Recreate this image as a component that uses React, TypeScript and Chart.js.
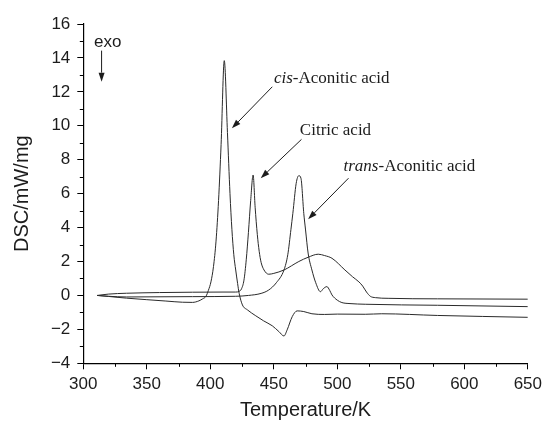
import React, { useEffect, useRef } from "react";
import { Chart, registerables } from "chart.js";

Chart.register(...registerables);

// ---- Data ----
const cisT = [311, 320, 334, 350, 365, 378, 386, 391, 394, 396.6, 398.5, 400.5, 402.5, 404.5, 406.5, 408.5, 411, 413.5, 415.5, 417, 418.5, 420, 421.5, 422.7, 425.3, 429.2, 435.8, 442, 448.8, 454, 458, 460.5, 464.5, 468.4, 473.6, 480, 490, 500, 522, 535, 579, 650];
const cisY = [0, -0.06, -0.16, -0.25, -0.33, -0.4, -0.41, -0.32, -0.2, -0.05, 0.3, 0.8, 1.7, 3.2, 5.6, 8.9, 13.84, 9.6, 6.0, 3.9, 2.4, 1.5, 0.7, 0.13, -0.56, -0.85, -1.2, -1.5, -1.79, -2.13, -2.39, -2.03, -1.25, -0.91, -0.95, -1.08, -1.12, -1.1, -1.11, -1.08, -1.18, -1.29];

const citricT = [311, 320, 334, 360, 386, 410, 420, 422.7, 424.5, 426.5, 428.3, 430, 431.8, 433.7, 435.3, 437, 438.5, 440, 442.3, 446, 450, 458, 469.7, 477, 485, 490, 495.8, 506, 512, 517, 520, 523, 526, 530, 540, 579, 650];
const citricY = [0, 0.08, 0.13, 0.17, 0.19, 0.2, 0.2, 0.24, 0.38, 0.9, 2.1, 3.7, 5.6, 7.1, 5.2, 3.6, 2.6, 1.95, 1.5, 1.25, 1.3, 1.5, 2.0, 2.25, 2.43, 2.35, 2.19, 1.5, 1.1, 0.8, 0.55, 0.2, -0.05, -0.13, -0.17, -0.2, -0.22];

const transT = [311, 320, 334, 386, 420, 430, 440, 446, 452, 458, 461, 463.5, 465, 467.6, 469.7, 471.4, 473.6, 475, 477, 480, 483, 486.7, 489, 491.8, 494, 495.8, 500, 503.6, 510, 522, 579, 650];
const transY = [0, -0.05, -0.09, -0.07, -0.05, 0.0, 0.12, 0.32, 0.75, 1.5, 2.4, 3.9, 4.84, 6.6, 7.06, 6.9, 4.84, 3.86, 2.5, 1.5, 0.75, 0.22, 0.4, 0.52, 0.3, 0.03, -0.28, -0.42, -0.48, -0.52, -0.58, -0.66];

const xMinorTicks = [325, 375, 425, 475, 525, 575, 625];
const yMinorTicks = [-3, -1, 1, 3, 5, 7, 9, 11, 13, 15];

// annotations in data coordinates
const labels = [
  { italic: "cis", rest: "-Aconitic acid", x: 450.1, y: 12.5 },
  { italic: "", rest: "Citric acid", x: 470.5, y: 9.46 },
  { italic: "trans", rest: "-Aconitic acid", x: 504.9, y: 7.31 },
];
const arrows = [
  { x1: 448.8, y1: 12.3, x2: 417.0, y2: 9.85 },
  { x1: 471.8, y1: 9.2, x2: 439.7, y2: 6.91 },
  { x1: 508.8, y1: 6.91, x2: 477.0, y2: 4.49 },
  { x1: 314.4, y1: 14.43, x2: 314.4, y2: 12.6 },
];
const exoLabel = { text: "exo", x: 308.4, y: 14.66 };

const toPoints = (xs: number[], ys: number[]) => xs.map((x, i) => ({ x, y: ys[i] }));

const INK = "#1c1c1c";

const minorTickPlugin = {
  id: "minorTicks",
  afterDraw(chart: any) {
    const { ctx, chartArea, scales } = chart;
    const xs = scales.x;
    const ys = scales.y;
    ctx.save();
    ctx.strokeStyle = "#000";
    ctx.lineWidth = 1;
    for (const v of xMinorTicks) {
      const px = Math.round(xs.getPixelForValue(v)) + 0.5;
      ctx.beginPath();
      ctx.moveTo(px, chartArea.bottom);
      ctx.lineTo(px, chartArea.bottom + 3.5);
      ctx.stroke();
    }
    for (const v of yMinorTicks) {
      const py = Math.round(ys.getPixelForValue(v)) + 0.5;
      ctx.beginPath();
      ctx.moveTo(chartArea.left, py);
      ctx.lineTo(chartArea.left - 3.5, py);
      ctx.stroke();
    }
    ctx.restore();
  },
};

const annotationPlugin = {
  id: "annotations",
  afterDraw(chart: any) {
    const { ctx, scales } = chart;
    const xs = scales.x;
    const ys = scales.y;
    ctx.save();
    ctx.fillStyle = INK;
    ctx.strokeStyle = INK;
    ctx.textBaseline = "alphabetic";
    ctx.textAlign = "left";
    for (const l of labels) {
      let px = xs.getPixelForValue(l.x);
      const py = ys.getPixelForValue(l.y);
      if (l.italic) {
        ctx.font = "italic 17px 'Liberation Serif', 'Times New Roman', serif";
        ctx.fillText(l.italic, px, py);
        px += ctx.measureText(l.italic).width;
      }
      ctx.font = "17px 'Liberation Serif', 'Times New Roman', serif";
      ctx.fillText(l.rest, px, py);
    }
    ctx.font = "17px 'Liberation Sans', Arial, sans-serif";
    ctx.fillText(exoLabel.text, xs.getPixelForValue(exoLabel.x), ys.getPixelForValue(exoLabel.y));
    ctx.lineWidth = 1;
    for (const a of arrows) {
      const x1 = xs.getPixelForValue(a.x1);
      const y1 = ys.getPixelForValue(a.y1);
      const x2 = xs.getPixelForValue(a.x2);
      const y2 = ys.getPixelForValue(a.y2);
      const ang = Math.atan2(y2 - y1, x2 - x1);
      const head = 9;
      const half = 3;
      const bx = x2 - head * Math.cos(ang);
      const by = y2 - head * Math.sin(ang);
      ctx.beginPath();
      ctx.moveTo(x1, y1);
      ctx.lineTo(bx, by);
      ctx.stroke();
      ctx.beginPath();
      ctx.moveTo(x2, y2);
      ctx.lineTo(bx + half * Math.sin(ang), by - half * Math.cos(ang));
      ctx.lineTo(bx - half * Math.sin(ang), by + half * Math.cos(ang));
      ctx.closePath();
      ctx.fill();
    }
    ctx.restore();
  },
};

export default function App() {
  const ref = useRef<HTMLCanvasElement>(null);
  useEffect(() => {
    if (!ref.current) return;
    const lineStyle = {
      borderColor: "#2a2a2a",
      borderWidth: 1,
      pointRadius: 0,
      fill: false,
      cubicInterpolationMode: "monotone" as const,
    };
    const chart = new Chart(ref.current, {
      type: "line",
      data: {
        datasets: [
          { label: "cis-Aconitic acid", data: toPoints(cisT, cisY), ...lineStyle },
          { label: "Citric acid", data: toPoints(citricT, citricY), ...lineStyle },
          { label: "trans-Aconitic acid", data: toPoints(transT, transY), ...lineStyle },
        ],
      },
      options: {
        animation: false,
        responsive: false,
        events: [],
        layout: { padding: { left: 0, top: 24, right: 16.7, bottom: 0 } },
        plugins: { legend: { display: false }, tooltip: { enabled: false } },
        scales: {
          x: {
            type: "linear",
            min: 300,
            max: 650,
            afterFit: (s: any) => {
              s.height = 61.7;
            },
            ticks: {
              stepSize: 50,
              autoSkip: false,
              maxRotation: 0,
              padding: 5,
              color: INK,
              font: { family: "'Liberation Sans', Arial, sans-serif", size: 17 },
            },
            grid: { drawOnChartArea: false, drawTicks: true, tickLength: 6, tickColor: "#000", tickWidth: 1 },
            border: { display: true, color: "#000", width: 1.2 },
            title: {
              display: true,
              text: "Temperature/K",
              color: INK,
              padding: { top: 0, bottom: 3 },
              font: { family: "'Liberation Sans', Arial, sans-serif", size: 20 },
            },
          },
          y: {
            type: "linear",
            min: -4,
            max: 16,
            afterFit: (s: any) => {
              s.width = 83.3;
            },
            ticks: {
              stepSize: 2,
              autoSkip: false,
              padding: 7,
              color: INK,
              font: { family: "'Liberation Sans', Arial, sans-serif", size: 17 },
              callback: (v: any) => (Number(v) < 0 ? "\u2212" + Math.abs(Number(v)) : String(v)),
            },
            grid: { drawOnChartArea: false, drawTicks: true, tickLength: 6, tickColor: "#000", tickWidth: 1 },
            border: { display: true, color: "#000", width: 1.2 },
            title: {
              display: true,
              text: "DSC/mW/mg",
              color: INK,
              padding: { top: 10, bottom: 0 },
              font: { family: "'Liberation Sans', Arial, sans-serif", size: 20 },
            },
          },
        },
      },
      plugins: [minorTickPlugin, annotationPlugin],
    });
    return () => chart.destroy();
  }, []);
  return (
    <div style={{ position: "absolute", left: 0, top: 0, width: 547, height: 425, background: "#fff" }}>
      <canvas ref={ref} width={547} height={425} style={{ display: "block" }} />
    </div>
  );
}
